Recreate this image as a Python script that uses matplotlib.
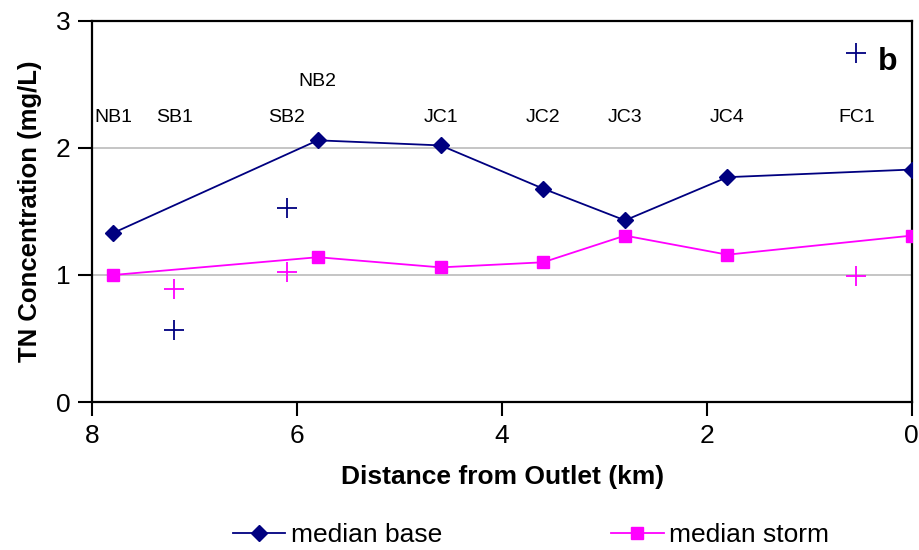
import matplotlib
matplotlib.use("Agg")
import matplotlib.pyplot as plt

plt.rcParams['font.family'] = ['Liberation Sans', 'DejaVu Sans']

# Main-stem sites (connected lines)
main_sites = ["NB1", "NB2", "JC1", "JC2", "JC3", "JC4", "Outlet"]
main_dist = [7.8, 5.8, 4.6, 3.6, 2.8, 1.8, 0.0]
median_base = [1.33, 2.06, 2.02, 1.68, 1.43, 1.77, 1.83]
median_storm = [1.00, 1.14, 1.06, 1.10, 1.31, 1.16, 1.31]

# Tributary sites (unconnected crosses)
trib_sites = ["SB1", "SB2", "FC1"]
trib_dist = [7.2, 6.1, 0.54]
trib_base = [0.57, 1.53, 2.75]
trib_storm = [0.89, 1.02, 0.99]

# Site name labels
label_names = ["NB1", "SB1", "SB2", "NB2", "JC1", "JC2", "JC3", "JC4", "FC1"]
label_dist = [7.8, 7.2, 6.1, 5.8, 4.6, 3.6, 2.8, 1.8, 0.54]

x_ticks = [8, 6, 4, 2, 0]
y_ticks = [0, 1, 2, 3]

navy = "#000080"
magenta = "#FF00FF"

fig = plt.figure(figsize=(9.2, 5.5), dpi=100)
ax = fig.add_axes([0.1005, 0.269, 0.8905, 0.693])

for yv in [1, 2]:
    ax.axhline(yv, color="#c0c0c0", lw=1.3, zorder=0)

lb, = ax.plot(main_dist, median_base, color=navy, lw=1.3, marker="D", ms=8.5,
              label="median base", zorder=3)
ls, = ax.plot(main_dist, median_storm, color=magenta, lw=1.3, marker="s", ms=8,
              label="median storm", zorder=3)
ax.plot(trib_dist, trib_base, ls="none", marker="+", ms=14, mew=1.3, color=navy, zorder=3)
ax.plot(trib_dist, trib_storm, ls="none", marker="+", ms=14, mew=1.3, color=magenta, zorder=3)

label_y = {"NB2": 2.52}
for name, d in zip(label_names, label_dist):
    ax.text(d, label_y.get(name, 2.24), name, ha="center", va="center", fontsize=14)

ax.text(0.23, 2.68, "b", ha="center", va="center", fontsize=23, fontweight="bold")

ax.set_xlim(8, 0)
ax.set_ylim(0, 3)
ax.set_xticks(x_ticks)
ax.set_yticks(y_ticks)
ax.tick_params(axis="both", direction="out", length=10, width=1.5, labelsize=19, pad=6)
for s in ax.spines.values():
    s.set_linewidth(1.6)
    s.set_color("black")

ax.set_xlabel("Distance from Outlet (km)", fontsize=19, fontweight="bold", labelpad=12)
ax.set_ylabel("TN Concentration (mg/L)", fontsize=18.5, fontweight="bold", labelpad=10)

fig.legend(handles=[lb, ls], loc="center", bbox_to_anchor=(0.577, 0.027), ncol=2,
           frameon=False, fontsize=19, handlelength=2.0, handletextpad=0.2,
           columnspacing=6.4, borderaxespad=0)

fig.savefig("out.png", dpi=100)
